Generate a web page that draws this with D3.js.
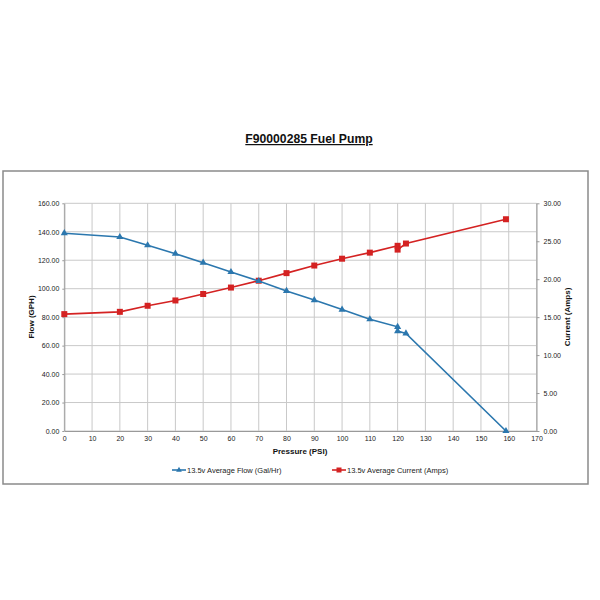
<!DOCTYPE html>
<html>
<head>
<meta charset="utf-8">
<script src="https://cdn.jsdelivr.net/npm/d3@7"></script>
<style>
  body { margin: 0; background: #fff; }
  text { font-family: "Liberation Sans", Arial, sans-serif; }
</style>
</head>
<body>
<svg width="600" height="600"></svg>
<script>
// pressure readings (PSI)
const pressure = [0, 20, 30, 40, 50, 60, 70, 80, 90, 100, 110, 120, 120, 123, 159];
// 13.5v average flow (Gal/Hr)
const flow = [139, 136.3, 130.5, 124.6, 118.3, 111.7, 105.4, 98.4, 92, 85.3, 78.5, 73.2, 70.2, 68.6, 0];
// 13.5v average current (Amps)
const current = [15.4, 15.7, 16.5, 17.2, 18.05, 18.9, 19.8, 20.8, 21.8, 22.7, 23.5, 24.4, 23.9, 24.7, 27.9];

const xTicks = d3.range(0, 171, 10);
const flowTicks = d3.range(0, 161, 20);
const currentTicks = d3.range(0, 31, 5);

const blue = "#2b77ae";
const red = "#d42222";

const svg = d3.select("svg");

// outer frame
svg.append("rect")
  .attr("x", 3).attr("y", 171)
  .attr("width", 585).attr("height", 313)
  .attr("fill", "none")
  .attr("stroke", "#8a8a8a")
  .attr("stroke-width", 1.5);

// title
svg.append("text")
  .attr("x", 309).attr("y", 143)
  .attr("text-anchor", "middle")
  .attr("font-size", 12.2)
  .attr("font-weight", "bold")
  .attr("text-decoration", "underline")
  .attr("fill", "#111")
  .text("F90000285 Fuel Pump");

const x = d3.scaleLinear().domain([0, 170]).range([64.3, 536.5]);
const yL = d3.scaleLinear().domain([0, 160]).range([431, 203.3]);
const yR = d3.scaleLinear().domain([0, 30]).range([431, 203.3]);

// grid
svg.append("g")
  .selectAll("line")
  .data(xTicks)
  .join("line")
  .attr("x1", d => x(d)).attr("x2", d => x(d))
  .attr("y1", yL(160)).attr("y2", yL(0))
  .attr("stroke", "#c9c9c9");

svg.append("g")
  .selectAll("line")
  .data(flowTicks)
  .join("line")
  .attr("x1", x(0)).attr("x2", x(170))
  .attr("y1", d => yL(d)).attr("y2", d => yL(d))
  .attr("stroke", "#c9c9c9");

// axes
const styleAxis = g => {
  g.select(".domain").attr("stroke", "#9a9a9a");
  g.selectAll(".tick line").attr("stroke", "#9a9a9a");
  g.selectAll(".tick text").attr("fill", "#222").attr("font-size", 7);
};

svg.append("g")
  .attr("transform", `translate(0,${yL(0)})`)
  .call(d3.axisBottom(x).tickValues(xTicks).tickSize(0).tickPadding(5).tickSizeOuter(0))
  .call(styleAxis);

svg.append("g")
  .attr("transform", `translate(${x(0)},0)`)
  .call(d3.axisLeft(yL).tickValues(flowTicks).tickFormat(d3.format(".2f")).tickSize(2).tickPadding(3).tickSizeOuter(0))
  .call(styleAxis);

svg.append("g")
  .attr("transform", `translate(${x(170)},0)`)
  .call(d3.axisRight(yR).tickValues(currentTicks).tickFormat(d3.format(".2f")).tickSize(3).tickPadding(4).tickSizeOuter(0))
  .call(styleAxis);

// axis titles
svg.append("text")
  .attr("x", 300).attr("y", 454)
  .attr("text-anchor", "middle")
  .attr("font-size", 8).attr("font-weight", "bold").attr("fill", "#111")
  .text("Pressure (PSI)");

svg.append("text")
  .attr("transform", "translate(34,317) rotate(-90)")
  .attr("text-anchor", "middle")
  .attr("font-size", 8).attr("font-weight", "bold").attr("fill", "#111")
  .text("Flow (GPH)");

svg.append("text")
  .attr("transform", "translate(570,317) rotate(-90)")
  .attr("text-anchor", "middle")
  .attr("font-size", 8).attr("font-weight", "bold").attr("fill", "#111")
  .text("Current (Amps)");

// series
const flowData = pressure.map((p, i) => [p, flow[i]]);
const currentData = pressure.map((p, i) => [p, current[i]]);

svg.append("path")
  .datum(currentData)
  .attr("fill", "none").attr("stroke", red).attr("stroke-width", 1.6)
  .attr("d", d3.line().x(d => x(d[0])).y(d => yR(d[1])));

svg.append("g")
  .selectAll("rect")
  .data(currentData)
  .join("rect")
  .attr("x", d => x(d[0]) - 3).attr("y", d => yR(d[1]) - 3)
  .attr("width", 6).attr("height", 6)
  .attr("fill", red);

svg.append("path")
  .datum(flowData)
  .attr("fill", "none").attr("stroke", blue).attr("stroke-width", 1.6)
  .attr("d", d3.line().x(d => x(d[0])).y(d => yL(d[1])));

const tri = d3.symbol().type(d3.symbolTriangle).size(22);
svg.append("g")
  .selectAll("path")
  .data(flowData)
  .join("path")
  .attr("transform", d => `translate(${x(d[0])},${yL(d[1])})`)
  .attr("d", tri)
  .attr("fill", blue);

// legend
const legend = [
  { name: "13.5v Average Flow (Gal/Hr)", color: blue, x: 172, shape: "tri" },
  { name: "13.5v Average Current (Amps)", color: red, x: 332, shape: "sq" }
];
const lg = svg.append("g").selectAll("g").data(legend).join("g")
  .attr("transform", d => `translate(${d.x},470)`);
lg.append("line").attr("x1", 0).attr("x2", 14)
  .attr("stroke", d => d.color).attr("stroke-width", 1.6);
lg.filter(d => d.shape === "tri").append("path")
  .attr("transform", "translate(7,0)")
  .attr("d", d3.symbol().type(d3.symbolTriangle).size(14))
  .attr("fill", d => d.color);
lg.filter(d => d.shape === "sq").append("rect")
  .attr("x", 4.5).attr("y", -2.5).attr("width", 5).attr("height", 5)
  .attr("fill", d => d.color);
lg.append("text")
  .attr("x", 15).attr("y", 2.6)
  .attr("font-size", 7.5).attr("fill", "#222")
  .text(d => d.name);
</script>
</body>
</html>
